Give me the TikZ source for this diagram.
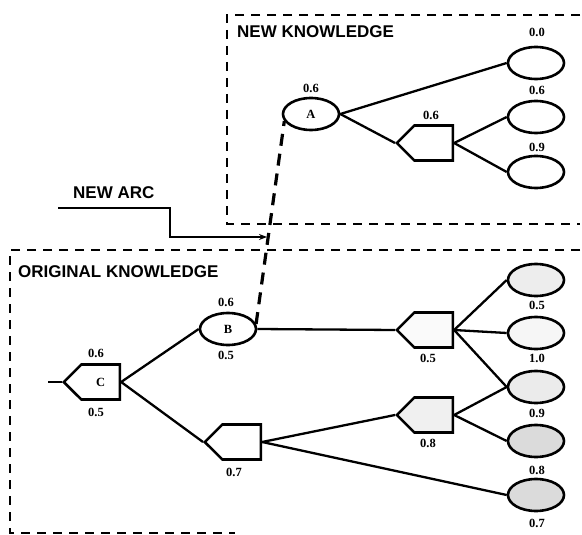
\documentclass[tikz,border=0pt]{standalone}
\usepackage{fontspec}
\setmainfont{Liberation Serif}
\newfontfamily\headfont{Liberation Sans}
\usetikzlibrary{shapes.geometric,shapes.symbols,arrows.meta}
\begin{document}
\begin{tikzpicture}[x=1pt,y=-1pt,
  oval/.style={draw, ellipse, line width=2.6pt, minimum width=56pt, minimum height=32pt, inner sep=0pt, font=\bfseries\fontsize{12.5}{12.5}\selectfont},
  pent/.style={draw, signal, signal to=west, signal from=nowhere, signal pointer angle=90, line width=2.6pt, minimum width=56pt, minimum height=35pt, inner sep=0pt, anchor=west, font=\bfseries\fontsize{12.5}{12.5}\selectfont},
  num/.style={font=\bfseries\fontsize{12.5}{12.5}\selectfont, inner sep=0pt},
  conn/.style={line width=2.3pt},
  box/.style={line width=2pt, dash pattern=on 9pt off 7pt},
  arcdash/.style={line width=3.2pt, dash pattern=on 12pt off 8pt},
  head/.style={font=\headfont\bfseries\fontsize{17}{17}\selectfont, inner sep=0pt, anchor=base west}
]
\useasboundingbox (0,0) rectangle (582,535);

% boxes
\draw[box] (580,15) -- (227,15) -- (227,224) -- (580,224);
\draw[box] (580,250) -- (10,250) -- (10,533) -- (235,533);
\node[head] (hnew) at (237,38) {NEW KNOWLEDGE};
\node[head] (horig) at (18,277) {ORIGINAL KNOWLEDGE};
\node[head] (harc) at (73,198) {NEW ARC};

% new knowledge
\node[oval] (A) at (311,114) {A};
\node[oval] (N1) at (536,63) {};
\node[oval] (N2) at (536,117) {};
\node[oval] (N3) at (536,172) {};
\node[pent] (P1) at (395,143) {};
\node[num] (lA) at (311,88) {0.6};
\node[num] (lN1) at (537,32) {0.0};
\node[num] (lN2) at (537,90) {0.6};
\node[num] (lN3) at (537,147) {0.9};
\node[num] (lP1) at (431,115) {0.6};
\draw[conn] (A.east) -- (N1.west);
\draw[conn] (A.east) -- (P1.west);
\draw[conn] (P1.east) -- (N2.west);
\draw[conn] (P1.east) -- (N3.west);

% original knowledge
\node[pent] (C) at (62,382) {C};
\node[oval] (B) at (228,329) {B};
\node[pent] (D) at (203,442) {};
\node[pent, fill=gray!4] (E) at (395,330) {};
\node[pent, fill=gray!12] (F) at (395,415) {};
\node[oval, fill=gray!14] (O1) at (536,280) {};
\node[oval, fill=gray!7] (O2) at (536,333) {};
\node[oval, fill=gray!16] (O3) at (536,387) {};
\node[oval, fill=gray!28] (O4) at (536,441) {};
\node[oval, fill=gray!28] (O5) at (536,495) {};
\coordinate (Cin) at (48,382);

\node[num] (lC1) at (96,353) {0.6};
\node[num] (lC2) at (96,412) {0.5};
\node[num] (lB1) at (226,302) {0.6};
\node[num] (lB2) at (226,355) {0.5};
\node[num] (lD) at (234,472) {0.7};
\node[num] (lE) at (428,358) {0.5};
\node[num] (lF) at (428,443) {0.8};
\node[num] (lO1) at (537,305) {0.5};
\node[num] (lO2) at (537,358) {1.0};
\node[num] (lO3) at (537,413) {0.9};
\node[num] (lO4) at (537,470) {0.8};
\node[num] (lO5) at (537,523) {0.7};

\draw[conn] (Cin) -- (C.west);
\draw[conn] (C.east) -- (B.west);
\draw[conn] (C.east) -- (D.west);
\draw[conn] (B.east) -- (E.west);
\draw[conn] (E.east) -- (O1.west);
\draw[conn] (E.east) -- (O2.west);
\draw[conn] (E.east) -- (O3.west);
\draw[conn] (D.east) -- (F.west);
\draw[conn] (D.east) -- (O5.west);
\draw[conn] (F.east) -- (O3.west);
\draw[conn] (F.east) -- (O4.west);

% new arc
\draw[arcdash] (B.10) -- (A.195);
\coordinate (arcstart) at (58,208);
\coordinate (arcend) at (267,237);
\draw[conn, -{Stealth[length=8pt,width=6pt]}] (arcstart) -- (170,208) -- (170,237) -- (arcend);
\end{tikzpicture}
\end{document}
